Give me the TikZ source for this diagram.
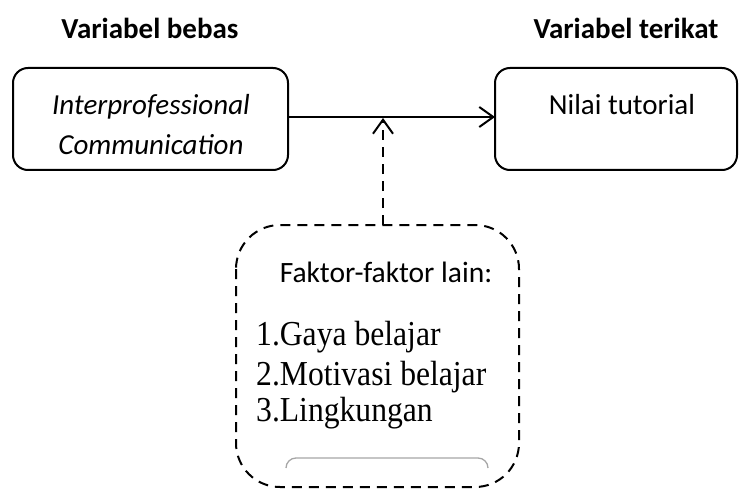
\documentclass[tikz,border=0pt]{standalone}
\usepackage{fontspec}
\setmainfont{Carlito}
\newfontfamily\timesf{Liberation Serif}
\usetikzlibrary{arrows.meta}
\begin{document}
\begin{tikzpicture}[x=1pt,y=-1pt,
  solidbox/.style={draw, line width=2pt, rounded corners=15pt},
  tip/.style={-{Straight Barb[length=14pt,width=20pt,line width=2pt]}},
  arr/.style={line width=2pt, tip},
  dashline/.style={line width=2pt, dash pattern=on 10pt off 7pt},
  lbl/.style={inner sep=0pt, font=\fontsize{29}{34}\selectfont},
  head/.style={inner sep=0pt, font=\fontsize{29}{34}\selectfont\bfseries},
  itemtxt/.style={inner sep=0pt, anchor=west, font=\timesf\fontsize{34}{40}\selectfont}]
\useasboundingbox (0,0) rectangle (739,492);
\node[head] (h1) at (150,28) {Variabel bebas};
\node[head] (h2) at (626,28) {Variabel terikat};
\path[solidbox] (13,68) rectangle (288,170);
\coordinate (lb) at (288,117);
\node[lbl, font=\fontsize{29}{40}\selectfont\itshape, align=center] (ipc) at (151,125) {Interprofessional\\Communication};
\path[solidbox] (495,68) rectangle (737,170);
\coordinate (rb) at (495,117);
\node[lbl] (nt) at (622,105) {Nilai tutorial};
\draw[arr] (lb) -- (rb);
\draw[dashline, rounded corners=44pt] (236,225) rectangle (519,487);
\coordinate (dtop) at (383,225);
\coordinate (dtip) at (383,118);
\draw[dashline, tip] (dtop) -- (dtip);
\node[lbl, font=\fontsize{29.5}{34}\selectfont] (fk) at (386,272) {Faktor-faktor lain:};
\node[itemtxt] (i1) at (256,337) {\scalebox{0.93}[1.03]{1.Gaya belajar}};
\node[itemtxt] (i2) at (256,377) {\scalebox{0.93}[1.03]{2.Motivasi belajar}};
\node[itemtxt] (i3) at (256,413) {\scalebox{0.93}[1.03]{3.Lingkungan}};
\draw[gray!70, line width=1.3pt] (286,468) arc[start angle=180,end angle=90,radius=10pt] -- (478,458) arc[start angle=90,end angle=0,radius=10pt];
\end{tikzpicture}
\end{document}
